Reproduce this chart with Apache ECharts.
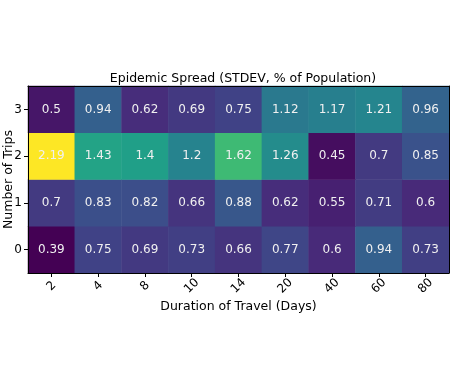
<!DOCTYPE html>
<html>
<head>
<meta charset="utf-8">
<script src="https://cdn.jsdelivr.net/npm/echarts@6/dist/echarts.min.js"></script>
<style>
  html, body { margin: 0; padding: 0; background: #fff; }
  #main { width: 455px; height: 368px; }
</style>
</head>
<body>
<div id="main"></div>
<script>
var days = ['2', '4', '8', '10', '14', '20', '40', '60', '80'];
var trips = ['0', '1', '2', '3'];
// one row per number of trips (0..3)
var trips0 = [0.39, 0.75, 0.69, 0.73, 0.66, 0.77, 0.6, 0.94, 0.73];
var trips1 = [0.7, 0.83, 0.82, 0.66, 0.88, 0.62, 0.55, 0.71, 0.6];
var trips2 = [2.19, 1.43, 1.4, 1.2, 1.62, 1.26, 0.45, 0.7, 0.85];
var trips3 = [0.5, 0.94, 0.62, 0.69, 0.75, 1.12, 1.17, 1.21, 0.96];
var rows = [trips0, trips1, trips2, trips3];

var data = [];
for (var r = 0; r < rows.length; r++) {
  for (var c = 0; c < days.length; c++) {
    data.push([c, r, rows[r][c]]);
  }
}

var chart = echarts.init(document.getElementById('main'));
var font = 'DejaVu Sans';
// plain frame lines, drawn above the cells
var spine = { show: true, lineStyle: { color: '#000', width: 1 } };
var option = {
  animation: false,
  textStyle: { fontFamily: font },
  title: {
    text: 'Epidemic Spread (STDEV, % of Population)',
    left: 238, top: 67, textAlign: 'center',
    textStyle: { fontSize: 12.5, fontWeight: 'normal', color: '#000', fontFamily: font }
  },
  grid: { left: 28, right: 6, top: 86, bottom: 95, containLabel: false, outerBoundsMode: 'none' },
  xAxis: [{
    type: 'category',
    data: days,
    z: 5,
    name: 'Duration of Travel (Days)',
    nameLocation: 'middle',
    nameGap: 27,
    nameMoveOverlap: false,
    nameTextStyle: { fontSize: 12.5, color: '#000' },
    axisLine: spine,
    axisTick: { show: true, alignWithLabel: true, length: 4, lineStyle: { color: '#000' } },
    axisLabel: { rotate: 45, fontSize: 12, color: '#000', margin: 13, align: 'center', verticalAlign: 'middle' },
    splitArea: { show: false }
  }, {
    type: 'category',
    data: days,
    position: 'top',
    z: 5,
    axisLine: spine,
    axisTick: { show: false },
    axisLabel: { show: false }
  }],
  yAxis: [{
    type: 'category',
    data: trips,
    z: 5,
    name: 'Number of Trips',
    nameLocation: 'middle',
    nameGap: 13,
    nameMoveOverlap: false,
    nameTextStyle: { fontSize: 12.5, color: '#000' },
    axisLine: spine,
    axisTick: { show: true, alignWithLabel: true, length: 4, lineStyle: { color: '#000' } },
    axisLabel: { fontSize: 12, color: '#000', margin: 6 }
  }, {
    type: 'category',
    data: trips,
    position: 'right',
    z: 5,
    axisLine: spine,
    axisTick: { show: false },
    axisLabel: { show: false }
  }],
  visualMap: {
    show: false,
    min: 0.39,
    max: 2.19,
    inRange: {
      color: ['#440154', '#482878', '#3e4989', '#31688e', '#26828e',
              '#1f9e89', '#35b779', '#6ece58', '#b5de2b', '#fde725']
    }
  },
  series: [{
    type: 'heatmap',
    data: data,
    label: {
      show: true,
      color: '#f0f0f0',
      fontSize: 12,
      fontFamily: font
    },
    itemStyle: { borderWidth: 0 }
  }]
};
chart.setOption(option);
</script>
</body>
</html>
